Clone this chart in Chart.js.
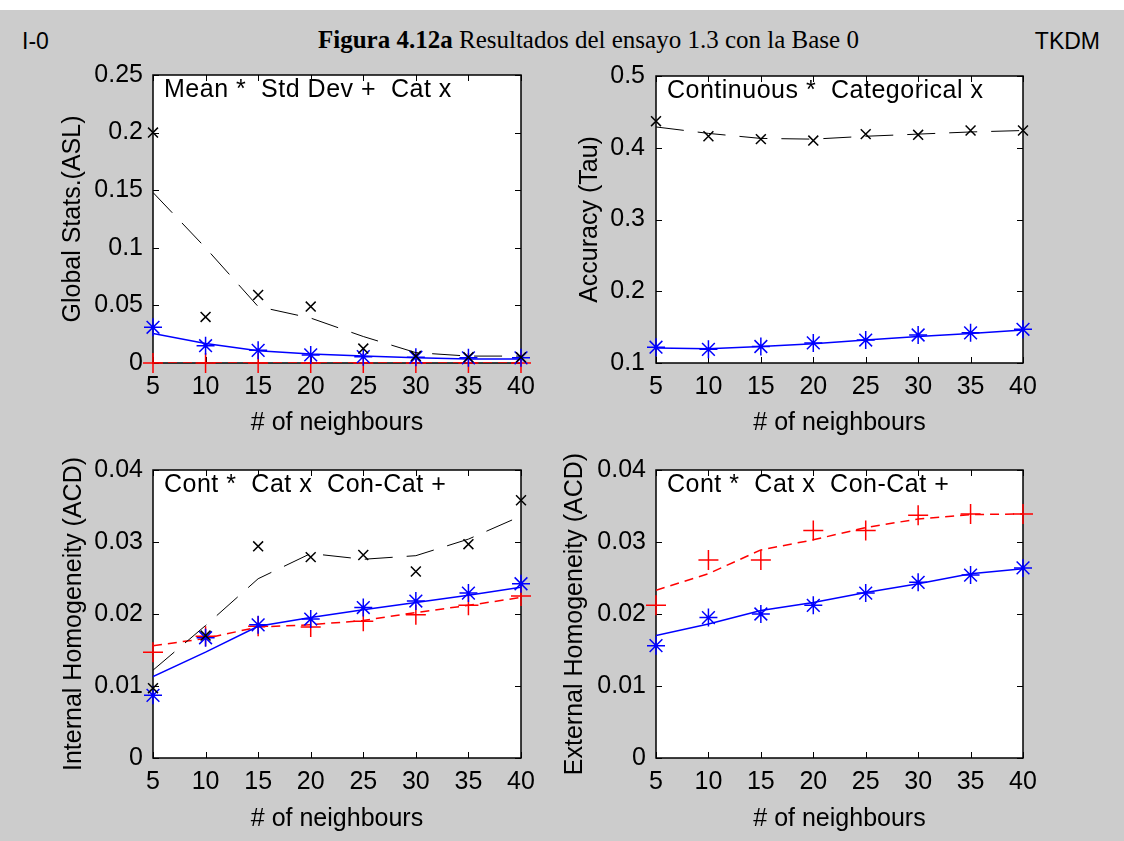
<!DOCTYPE html>
<html>
<head>
<meta charset="utf-8">
<script src="https://cdn.jsdelivr.net/npm/chart.js@4.4.1/dist/chart.umd.min.js"></script>
<style>
  html, body { margin: 0; padding: 0; }
  body {
    width: 1124px; height: 841px; overflow: hidden; position: relative;
    background: #cccccc;
    font-family: "Liberation Sans", Arial, sans-serif;
  }
  #strip { position: absolute; left: 0; top: 0; width: 1124px; height: 10px; background: #ffffff; }
  .hdr { position: absolute; color: #000; white-space: nowrap; }
  #tag { left: 22px; top: 28px; font-size: 23px; line-height: 26px; }
  #fig-title { left: 318px; top: 25px; font-family: "Liberation Serif", "Times New Roman", serif; font-size: 25px; line-height: 30px; }
  #brand { right: 24px; top: 28px; font-size: 23px; line-height: 26px; }
  canvas { position: absolute; }
</style>
</head>
<body>
<div id="strip"></div>
<div class="hdr" id="tag">I-0</div>
<div class="hdr" id="fig-title"><b>Figura 4.12a</b> Resultados del ensayo 1.3 con la Base 0</div>
<div class="hdr" id="brand">TKDM</div>

<canvas id="pGlobal" width="560" height="390" style="left:0px;top:50px"></canvas>
<canvas id="pAccuracy" width="564" height="390" style="left:560px;top:50px"></canvas>
<canvas id="pInternal" width="560" height="396" style="left:0px;top:445px"></canvas>
<canvas id="pExternal" width="564" height="396" style="left:560px;top:445px"></canvas>

<script>
// x axis: number of neighbours
const neighbours = [5, 10, 15, 20, 25, 30, 35, 40];
const xTickLabels = ['5', '10', '15', '20', '25', '30', '35', '40'];

// Global statistics (ASL): measured points and fitted curves
const globalMeanPts = [0.031, 0.015, 0.011, 0.007, 0.0055, 0.005, 0.0045, 0.0045];
const globalMeanFit = [0.0257, 0.017, 0.0107, 0.0078, 0.0061, 0.0046, 0.0035, 0.0035];
const globalStdPts  = [0, 0, 0, 0, 0, 0, 0, 0];
const globalStdFit  = [0, 0, 0, 0, 0, 0, 0, 0];
const globalCatPts  = [0.2, 0.04, 0.059, 0.049, 0.0125, 0.006, 0.005, 0.005];
const globalCatFit  = [0.148, 0.1, 0.049, 0.039, 0.023, 0.009, 0.006, 0.006];
const globalTicks   = [0, 0.05, 0.1, 0.15, 0.2, 0.25];
const globalLabels  = ['0', '0.05', '0.1', '0.15', '0.2', '0.25'];

// Accuracy (Tau)
const accContPts = [0.122, 0.119, 0.123, 0.128, 0.132, 0.139, 0.142, 0.147];
const accContFit = [0.121, 0.120, 0.123, 0.127, 0.132, 0.137, 0.141, 0.146];
const accCatPts  = [0.437, 0.416, 0.412, 0.410, 0.419, 0.418, 0.424, 0.424];
const accCatFit  = [0.429, 0.420, 0.413, 0.412, 0.416, 0.419, 0.422, 0.424];
const accTicks   = [0.1, 0.2, 0.3, 0.4, 0.5];
const accLabels  = ['0.1', '0.2', '0.3', '0.4', '0.5'];

// Internal homogeneity (ACD)
const intContPts   = [0.0087, 0.0167, 0.0185, 0.0193, 0.0209, 0.0218, 0.0229, 0.0242];
const intContFit   = [0.0113, 0.0147, 0.0183, 0.0195, 0.0206, 0.0216, 0.0226, 0.0237];
const intCatPts    = [0.0097, 0.0170, 0.0294, 0.0279, 0.0282, 0.0259, 0.0297, 0.0358];
const intCatFit    = [0.0122, 0.0184, 0.0249, 0.0284, 0.0276, 0.0281, 0.0304, 0.0336];
const intConCatPts = [0.0147, 0.0169, 0.0183, 0.0182, 0.0190, 0.0199, 0.0212, 0.0225];
const intConCatFit = [0.0156, 0.0166, 0.0182, 0.0185, 0.0191, 0.0202, 0.0212, 0.0223];

// External homogeneity (ACD)
const extContPts   = [0.0156, 0.0195, 0.0200, 0.0212, 0.0229, 0.0244, 0.0254, 0.0264];
const extContFit   = [0.0170, 0.0186, 0.0205, 0.0216, 0.0230, 0.0242, 0.0256, 0.0263];
const extConCatPts = [0.0212, 0.0275, 0.0275, 0.0316, 0.0316, 0.0337, 0.0339, 0.0339];
const extConCatFit = [0.0233, 0.0256, 0.0289, 0.0303, 0.0320, 0.0332, 0.0338, 0.0339];

const homTicks  = [0, 0.01, 0.02, 0.03, 0.04];
const homLabels = ['0', '0.01', '0.02', '0.03', '0.04'];

const BLUE = '#0000ff', RED = '#ff0000', BLACK = '#000000';
const SANS = '"Liberation Sans", Arial, sans-serif';
const axisFont = { family: SANS, size: 25 };
const CAT_DASH = [28, 14];
const RED_DASH = [9, 6];

const toXY = vals => neighbours.map((n, i) => ({ x: n, y: vals[i] }));

function fitLine(label, vals, color, dash, width) {
  return {
    label, data: toXY(vals), borderColor: color, borderWidth: width,
    borderDash: dash, pointRadius: 0, tension: 0, fill: false
  };
}

function markers(label, vals, color, style, radius) {
  return {
    label, data: toXY(vals), showLine: false, pointStyle: style,
    pointRadius: radius, pointBorderColor: color, pointBackgroundColor: color,
    pointBorderWidth: 1.5, clip: false
  };
}

// Boxed axes with inward ticks on all four sides, plus the in-axes key text
const matlabAxes = {
  id: 'matlabAxes',
  beforeDraw(chart) {
    const { ctx, chartArea: a } = chart;
    ctx.save();
    ctx.fillStyle = '#ffffff';
    ctx.fillRect(a.left, a.top, a.width, a.height);
    ctx.restore();
  },
  beforeDatasetsDraw(chart, args, opts) {
    const { ctx, chartArea: a, scales: { x, y } } = chart;
    const L = 6;
    ctx.save();
    ctx.strokeStyle = '#000';
    ctx.lineWidth = 1;
    ctx.beginPath();
    x.ticks.forEach(t => {
      const px = Math.round(x.getPixelForValue(t.value)) + 0.5;
      ctx.moveTo(px, a.bottom); ctx.lineTo(px, a.bottom - L);
      ctx.moveTo(px, a.top); ctx.lineTo(px, a.top + L);
    });
    y.ticks.forEach(t => {
      const py = Math.round(y.getPixelForValue(t.value)) + 0.5;
      ctx.moveTo(a.left, py); ctx.lineTo(a.left + L, py);
      ctx.moveTo(a.right, py); ctx.lineTo(a.right - L, py);
    });
    ctx.stroke();
    ctx.lineWidth = 1.5;
    ctx.strokeRect(a.left, a.top, a.width, a.height);
    ctx.fillStyle = '#000';
    ctx.font = '25px ' + SANS;
    ctx.letterSpacing = '0.5px';
    ctx.textBaseline = 'middle';
    ctx.textAlign = 'left';
    ctx.fillText(opts.text, a.left + 11, a.top + 15);
    ctx.restore();
  }
};

function makePanel(id, p) {
  return new Chart(document.getElementById(id), {
    type: 'line',
    data: { datasets: p.datasets },
    plugins: [matlabAxes],
    options: {
      responsive: false,
      animation: false,
      events: [],
      devicePixelRatio: 1,
      layout: { padding: { top: p.padTop, right: p.padRight, left: 0, bottom: 0 } },
      plugins: {
        legend: { display: false },
        tooltip: { enabled: false },
        matlabAxes: { text: p.key }
      },
      scales: {
        x: {
          type: 'linear', min: 5, max: 40,
          afterBuildTicks: s => { s.ticks = neighbours.map(v => ({ value: v })); },
          afterFit: s => { s.height = p.xAxisHeight; },
          grid: { display: false, drawTicks: false },
          border: { display: false },
          ticks: {
            callback: (v, i) => xTickLabels[i],
            color: '#000', font: axisFont, padding: 9,
            maxRotation: 0, autoSkip: false
          },
          title: {
            display: true, text: '# of neighbours', color: '#000', font: axisFont,
            padding: { top: 0, bottom: p.xTitlePad }
          }
        },
        y: {
          type: 'linear', min: p.yMin, max: p.yMax,
          afterBuildTicks: s => { s.ticks = p.yTicks.map(v => ({ value: v })); },
          afterFit: s => { s.width = p.yAxisWidth; },
          grid: { display: false, drawTicks: false },
          border: { display: false },
          ticks: {
            callback: (v, i) => p.yLabels[i],
            color: '#000', font: axisFont, padding: p.yTickPad, autoSkip: false
          },
          title: {
            display: true, text: p.yTitle, color: '#000', font: axisFont,
            padding: { top: p.yTitlePad, bottom: 0 }
          }
        }
      }
    }
  });
}

makePanel('pGlobal', {
  key: 'Mean *  Std Dev +  Cat x',
  yTitle: 'Global Stats.(ASL)',
  yMin: 0, yMax: 0.25, yTicks: globalTicks, yLabels: globalLabels,
  padTop: 24, padRight: 39, yAxisWidth: 153, yTickPad: 10, yTitlePad: 58,
  xAxisHeight: 77, xTitlePad: 2,
  datasets: [
    markers('Cat', globalCatPts, BLACK, 'crossRot', 7),
    fitLine('Cat fit', globalCatFit, BLACK, CAT_DASH, 1),
    markers('Mean', globalMeanPts, BLUE, 'star', 9),
    fitLine('Mean fit', globalMeanFit, BLUE, [], 1.5),
    markers('Std Dev', globalStdPts, RED, 'cross', 10),
    fitLine('Std Dev fit', globalStdFit, RED, RED_DASH, 1.5)
  ]
});

makePanel('pAccuracy', {
  key: 'Continuous *  Categorical x',
  yTitle: 'Accuracy (Tau)',
  yMin: 0.1, yMax: 0.5, yTicks: accTicks, yLabels: accLabels,
  padTop: 24, padRight: 101, yAxisWidth: 96, yTickPad: 11, yTitlePad: 15,
  xAxisHeight: 77, xTitlePad: 2,
  datasets: [
    markers('Categorical', accCatPts, BLACK, 'crossRot', 7),
    fitLine('Categorical fit', accCatFit, BLACK, CAT_DASH, 1),
    markers('Continuous', accContPts, BLUE, 'star', 9),
    fitLine('Continuous fit', accContFit, BLUE, [], 1.5)
  ]
});

makePanel('pInternal', {
  key: 'Cont *  Cat x  Con-Cat +',
  yTitle: 'Internal Homogeneity (ACD)',
  yMin: 0, yMax: 0.04, yTicks: homTicks, yLabels: homLabels,
  padTop: 24, padRight: 39, yAxisWidth: 153, yTickPad: 10, yTitlePad: 59,
  xAxisHeight: 83, xTitlePad: 7,
  datasets: [
    markers('Cat', intCatPts, BLACK, 'crossRot', 7),
    fitLine('Cat fit', intCatFit, BLACK, CAT_DASH, 1),
    markers('Cont', intContPts, BLUE, 'star', 9),
    fitLine('Cont fit', intContFit, BLUE, [], 1.5),
    markers('Con-Cat', intConCatPts, RED, 'cross', 10),
    fitLine('Con-Cat fit', intConCatFit, RED, RED_DASH, 1.5)
  ]
});

makePanel('pExternal', {
  key: 'Cont *  Cat x  Con-Cat +',
  yTitle: 'External Homogeneity (ACD)',
  yMin: 0, yMax: 0.04, yTicks: homTicks, yLabels: homLabels,
  padTop: 24, padRight: 101, yAxisWidth: 96, yTickPad: 10, yTitlePad: 0,
  xAxisHeight: 83, xTitlePad: 7,
  datasets: [
    markers('Cont', extContPts, BLUE, 'star', 9),
    fitLine('Cont fit', extContFit, BLUE, [], 1.5),
    markers('Con-Cat', extConCatPts, RED, 'cross', 10),
    fitLine('Con-Cat fit', extConCatFit, RED, RED_DASH, 1.5)
  ]
});
</script>
</body>
</html>
